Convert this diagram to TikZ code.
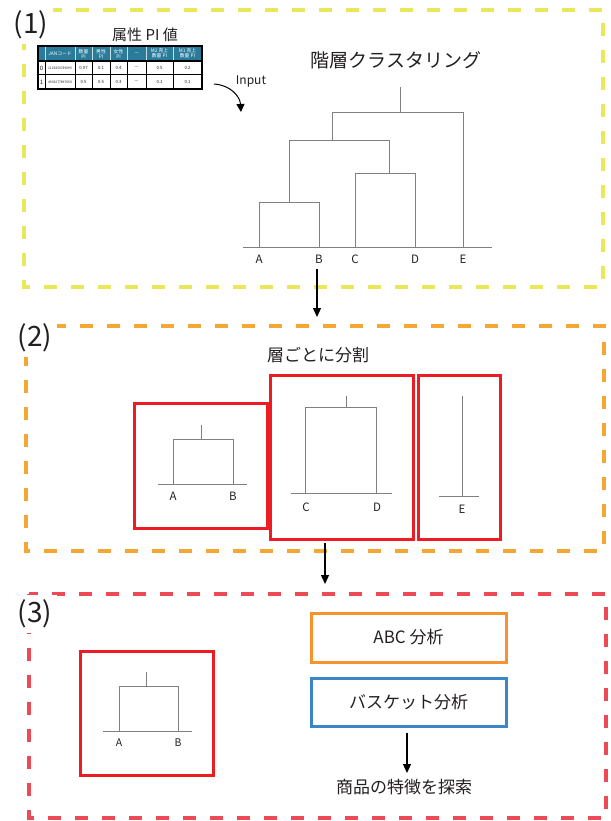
\documentclass[tikz,border=0pt]{standalone}
\usepackage{fontspec}
\setmainfont{Noto Sans CJK JP}
\usetikzlibrary{arrows.meta}

\definecolor{dyellow}{HTML}{E8E85A}
\definecolor{dorange}{HTML}{F5A733}
\definecolor{dred}{HTML}{EE4A55}
\definecolor{boxred}{HTML}{ED1C24}
\definecolor{boxorange}{HTML}{F7932E}
\definecolor{boxblue}{HTML}{3A86C6}
\definecolor{hdr}{HTML}{2A7A9A}
\definecolor{dendgray}{HTML}{808080}
\definecolor{txt}{HTML}{231F20}

\begin{document}
\begin{tikzpicture}[x=1pt,y=-1pt,
  sect/.style={line width=4pt, dash pattern=on 13pt off 14pt},
  secnum/.style={fill=white, inner sep=5pt, text=txt, font=\fontsize{28}{30}\selectfont},
  dend/.style={draw=dendgray, line width=1pt},
  leaf/.style={text=txt, inner sep=0pt, font=\fontsize{11.5}{12}\selectfont},
  redbox/.style={draw=boxred, line width=3pt},
  title/.style={text=txt, font=\fontsize{17}{19}\selectfont},
  flow/.style={line width=1.3pt, -{Triangle[length=9pt,width=8pt]}},
  hcell/.style={text=white, inner sep=0pt, align=center, font=\fontsize{4.8}{5}\selectfont},
  bcell/.style={text=txt, inner sep=0pt, font=\fontsize{4.3}{4.5}\selectfont}]
\useasboundingbox (0,0) rectangle (610,821);

% section frames
\draw[sect, dyellow] (24,10) rectangle (603,287);
\draw[sect, dorange] (26,326) rectangle (604,551);
\draw[sect, dred] (29,594) rectangle (606,818);

% section numbers
\node[secnum] (n1) at (31,25) {(1)};
\node[secnum] (n2) at (35,338) {(2)};
\node[secnum] (n3) at (35,614) {(3)};

% ---------- (1) attribute table ----------
\node[text=txt, font=\fontsize{15}{17}\selectfont] (ttab) at (145,35) {属性 PI 値};
\fill[hdr] (38,46) rectangle (202,61);
\foreach \x in {45,75,92,110,127,146,173}
  \draw[white!75!hdr, line width=0.6pt] (\x,46) -- (\x,61);
\foreach \x in {45,75,92,110,127,146,173}
  \draw[black, line width=1pt] (\x,61) -- (\x,89);
\draw[black, line width=1pt] (38,75) -- (202,75);
\draw[black, line width=1.2pt] (38,61) -- (202,61);
\draw[black, line width=1.2pt] (38,46) rectangle (202,89);
\node[hcell] (h1) at (60,53.5) {JANコード};
\node[hcell] (h2) at (83.5,53.5) {数量\\PI};
\node[hcell] (h3) at (101,53.5) {男性\\PI};
\node[hcell] (h4) at (118.5,53.5) {女性\\PI};
\node[hcell] (h5) at (136.5,53.5) {---};
\node[hcell] (h6) at (159.5,53.5) {M2 売上\\数量 PI};
\node[hcell] (h7) at (187.5,53.5) {M1 売上\\数量 PI};
\foreach \y/\i/\jan/\a/\b/\c/\d/\e [count=\r] in
  {68/0/1123456789095/0.07/0.1/0.4/0.5/0.2, 82/1/4903277897658/0.5/0.5/0.3/0.1/0.1} {
  \node[bcell, font=\fontsize{6}{6}\selectfont] (r\r i) at (41.5,\y) {\i};
  \node[bcell, font=\fontsize{3.3}{3.5}\selectfont] (r\r j) at (60,\y) {\jan};
  \node[bcell] (r\r a) at (83.5,\y) {\a};
  \node[bcell] (r\r b) at (101,\y) {\b};
  \node[bcell] (r\r c) at (118.5,\y) {\c};
  \node[bcell] (r\r d) at (136.5,\y) {---};
  \node[bcell] (r\r e) at (159.5,\y) {\d};
  \node[bcell] (r\r f) at (187.5,\y) {\e};
}

% input arrow
\node[text=txt, font=\fontsize{12}{14}\selectfont] (inp) at (251,81) {Input};
\coordinate (inS) at (214,84);
\coordinate (inE) at (241,112);
\draw[line width=1pt, -{Triangle[length=8pt,width=8pt]}] (inS) .. controls (230,85) and (240,96) .. (inE);

% ---------- (1) hierarchical clustering ----------
\node[text=txt, font=\fontsize{19}{22}\selectfont] (tclu) at (396,60) {階層クラスタリング};
\draw[dend] (243,247) -- (492,247);
\draw[dend] (259,247) -- (259,202) -- (319,202) -- (319,247);
\draw[dend] (355,247) -- (355,174) -- (415,174) -- (415,247);
\draw[dend] (289,202) -- (289,141) -- (389,141) -- (389,174);
\draw[dend] (332,141) -- (332,113) -- (463,113) -- (463,247);
\draw[dend] (400,113) -- (400,87);
\node[leaf] (lA) at (259,259) {A};
\node[leaf] (lB) at (319,259) {B};
\node[leaf] (lC) at (355,259) {C};
\node[leaf] (lD) at (415,259) {D};
\node[leaf] (lE) at (463,259) {E};

% step arrow (1) -> (2)
\coordinate (a1s) at (317,269);
\coordinate (a1e) at (317,317);
\draw[flow] (a1s) -- (a1e);

% ---------- (2) split per layer ----------
\node[title] (tsplit) at (318,355) {層ごとに分割};

\draw[redbox] (134,403) rectangle (267,528);
\draw[dend] (158,484) -- (247,484);
\draw[dend] (173,484) -- (173,439) -- (233,439) -- (233,484);
\draw[dend] (201,439) -- (201,425);
\node[leaf] (sA) at (173,496) {A};
\node[leaf] (sB) at (233,496) {B};

\draw[redbox] (270,375) rectangle (413,539);
\draw[dend] (291,493) -- (392,493);
\draw[dend] (305,493) -- (305,407) -- (376,407) -- (376,493);
\draw[dend] (346,407) -- (346,396);
\node[leaf] (sC) at (306,507) {C};
\node[leaf] (sD) at (377,507) {D};

\draw[redbox] (418,375) rectangle (500,539);
\draw[dend] (439,496) -- (479,496);
\draw[dend] (462,496) -- (462,396);
\node[leaf] (sE) at (462,509) {E};

% step arrow (2) -> (3)
\coordinate (a2s) at (325,543);
\coordinate (a2e) at (325,584);
\draw[flow] (a2s) -- (a2e);

% ---------- (3) analysis ----------
\draw[redbox] (80,651) rectangle (213,775);
\draw[dend] (103,731) -- (192,731);
\draw[dend] (119,731) -- (119,686) -- (178,686) -- (178,731);
\draw[dend] (146,686) -- (146,672);
\node[leaf, font=\fontsize{10.5}{11}\selectfont] (tA) at (119,743) {A};
\node[leaf, font=\fontsize{10.5}{11}\selectfont] (tB) at (178,743) {B};

\node[title, draw=boxorange, line width=3pt, minimum width=195pt, minimum height=49pt] (abc) at (408.5,637.5) {ABC 分析};
\node[title, draw=boxblue, line width=3pt, minimum width=195pt, minimum height=48pt] (bask) at (408.5,702) {バスケット分析};
\node[title] (feat) at (404,787) {商品の特徴を探索};
\coordinate (featIn) at (407,773);
\draw[flow] ([xshift=-1.5pt,yshift=-5pt]bask.south) -- (featIn);
\end{tikzpicture}
\end{document}
